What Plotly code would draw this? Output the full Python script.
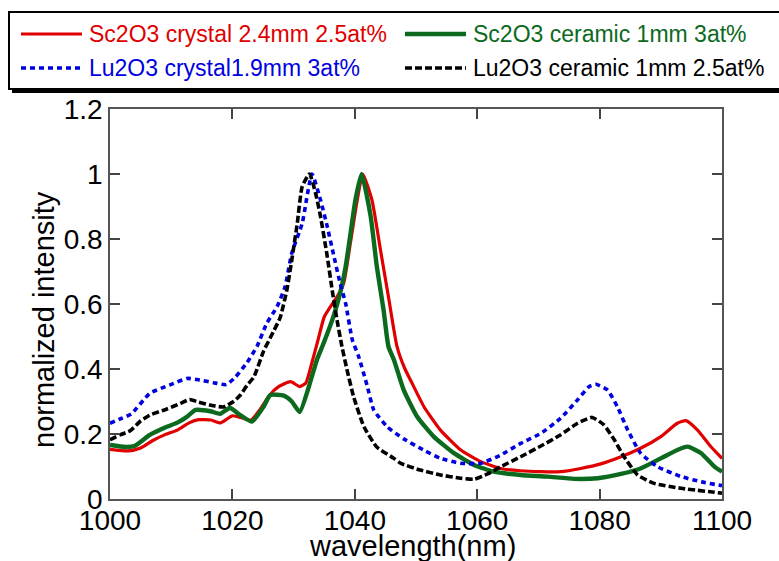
import plotly.graph_objects as go

# ---- spectra (wavelength in nm, normalized intensity) ----
sc_crystal_wl = [1000, 1003, 1005, 1007, 1009, 1011, 1013, 1014.5, 1016.5, 1018, 1020, 1021.5,
                 1023, 1024.5, 1026, 1027.5, 1029.5, 1031, 1032, 1033, 1034, 1035, 1036.3, 1037.2,
                 1038.2, 1039.3, 1040.4, 1041.3, 1042.8, 1044.2, 1045.5, 1046.9, 1048.2, 1049.1,
                 1051.3, 1054, 1057.3, 1060.6, 1063.8, 1067, 1070.4, 1073.6, 1076.9, 1080.2,
                 1083.5, 1086.7, 1090, 1092.7, 1094.1, 1096, 1098.2, 1100]
sc_crystal_int = [0.153, 0.148, 0.157, 0.180, 0.198, 0.212, 0.235, 0.244, 0.243, 0.234, 0.256, 0.250,
                  0.242, 0.275, 0.318, 0.345, 0.361, 0.346, 0.357, 0.420, 0.490, 0.560, 0.600, 0.625,
                  0.665, 0.790, 0.920, 1.000, 0.920, 0.766, 0.622, 0.469, 0.400, 0.366,
                  0.284, 0.212, 0.151, 0.115, 0.094, 0.087, 0.084, 0.084, 0.094, 0.108,
                  0.130, 0.156, 0.192, 0.233, 0.241, 0.212, 0.161, 0.125]

sc_ceramic_wl = [1000, 1002.5, 1004, 1006.5, 1009, 1011, 1012.5, 1014, 1016.4, 1018, 1019.6, 1021.3,
                 1023.2, 1025.1, 1026.2, 1028.4, 1029.7, 1031, 1032.5, 1033.8, 1034.9, 1036.5,
                 1037.6, 1038.5, 1039.3, 1040.1, 1041.1, 1042.6, 1043.6, 1044.7, 1045.5, 1046.4,
                 1048, 1050.2, 1052.9, 1056.2, 1059.5, 1062.7, 1067.1, 1071.5, 1075.8, 1079.7,
                 1083.5, 1086.7, 1090, 1092.7, 1094.4, 1096.6, 1098.8, 1100]
sc_ceramic_int = [0.166, 0.160, 0.163, 0.197, 0.220, 0.235, 0.252, 0.274, 0.270, 0.262, 0.280, 0.258,
                  0.238, 0.284, 0.320, 0.318, 0.300, 0.268, 0.346, 0.428, 0.479, 0.561,
                  0.633, 0.715, 0.817, 0.920, 1.000, 0.869, 0.715, 0.582, 0.469, 0.428,
                  0.335, 0.253, 0.192, 0.141, 0.105, 0.084, 0.074, 0.069, 0.062, 0.064,
                  0.077, 0.094, 0.125, 0.151, 0.161, 0.141, 0.099, 0.084]

lu_crystal_wl = [1000, 1001.5, 1003.5, 1006.5, 1009.8, 1012.6, 1014.7, 1016.9, 1019, 1020.5, 1022.4,
                 1024, 1025.6, 1027.3, 1028.6, 1029.7, 1031.4, 1033, 1034.4, 1035.5, 1036.6,
                 1037.6, 1038.5, 1039.6, 1040.6, 1042, 1043.1, 1045.3, 1048, 1051.3, 1054,
                 1057.3, 1060.6, 1063.8, 1067.1, 1070.4, 1073.6, 1076.4, 1078.3, 1079.4, 1081.3,
                 1082.9, 1084.6, 1086.7, 1089.5, 1093.3, 1096.6, 1100]
lu_crystal_int = [0.233, 0.245, 0.262, 0.325, 0.351, 0.371, 0.366, 0.358, 0.352, 0.375, 0.420,
                  0.469, 0.540, 0.592, 0.653, 0.756, 0.848, 1.000, 0.920, 0.838, 0.746,
                  0.664, 0.602, 0.489, 0.440, 0.350, 0.274, 0.222, 0.185, 0.150, 0.125,
                  0.110, 0.110, 0.135, 0.171, 0.202, 0.248, 0.305, 0.346, 0.353, 0.335,
                  0.284, 0.212, 0.141, 0.099, 0.069, 0.053, 0.041]

lu_ceramic_wl = [1000, 1001.6, 1003.3, 1005, 1006.5, 1009.3, 1011.5, 1013, 1014.5, 1016.4, 1018.5,
                 1020.2, 1021.3, 1022.4, 1023.5, 1025.1, 1026.7, 1027.8, 1028.9, 1029.7, 1030.6,
                 1031.4, 1032.6, 1033.6, 1034.4, 1035.5, 1036.3, 1037.1, 1037.9, 1038.7, 1039.8,
                 1041.5, 1043.6, 1046.4, 1047.5, 1050.7, 1054, 1057.3, 1059.5, 1061.7, 1063.8,
                 1067.1, 1070.4, 1073.6, 1076.4, 1078.8, 1080.7, 1082.4, 1084, 1086.2, 1088.9,
                 1093.3, 1100]
lu_ceramic_int = [0.182, 0.197, 0.210, 0.240, 0.258, 0.277, 0.294, 0.306, 0.298, 0.289, 0.283,
                  0.300, 0.320, 0.350, 0.375, 0.455, 0.515, 0.558, 0.643, 0.735, 0.848,
                  0.961, 1.000, 0.940, 0.869, 0.746, 0.643, 0.550, 0.469, 0.400, 0.315,
                  0.222, 0.160, 0.125, 0.110, 0.089, 0.074, 0.064, 0.061, 0.077, 0.099,
                  0.130, 0.163, 0.197, 0.233, 0.251, 0.228, 0.182, 0.130, 0.074, 0.048,
                  0.033, 0.018]

series_names = ["Sc2O3 crystal 2.4mm 2.5at%", "Sc2O3 ceramic 1mm 3at%",
                "Lu2O3 crystal1.9mm 3at%", "Lu2O3 ceramic 1mm 2.5at%"]
x_ticks = [1000, 1020, 1040, 1060, 1080, 1100]
y_ticks = [0, 0.2, 0.4, 0.6, 0.8, 1, 1.2]

FONT = "Liberation Sans, Arial, sans-serif"
W, H = 779, 561
ML, MR, MT, MB = 110, 57, 109, 62

styles = [
    dict(color="#e00000", width=3.2, dash="solid"),
    dict(color="#0b6a1d", width=4.4, dash="solid"),
    dict(color="#0000e0", width=3.6, dash="5px,4px"),
    dict(color="#000000", width=3.6, dash="7px,3px"),
]
data = [(sc_crystal_wl, sc_crystal_int), (sc_ceramic_wl, sc_ceramic_int),
        (lu_crystal_wl, lu_crystal_int), (lu_ceramic_wl, lu_ceramic_int)]

fig = go.Figure()
for (wl, inten), name, st in zip(data, series_names, styles):
    fig.add_trace(go.Scatter(x=wl, y=inten, mode="lines", name=name,
                             line=dict(color=st["color"], width=st["width"], dash=st["dash"],
                                       shape="spline", smoothing=0.5),
                             showlegend=False))

pw, ph = W - ML - MR, H - MT - MB


def px(x):
    return (x - ML) / pw


def py(y):
    return (H - MB - y) / ph


shapes = [
    # legend frame with drop shadow
    dict(type="rect", xref="paper", yref="paper", x0=px(12), x1=px(820), y0=py(15), y1=py(93),
         fillcolor="black", line=dict(width=0), layer="above"),
    dict(type="rect", xref="paper", yref="paper", x0=px(9), x1=px(815), y0=py(12), y1=py(89),
         fillcolor="white", line=dict(color="black", width=2), layer="above"),
]
annotations = []
legend_slots = [(21, 34), (405, 34), (21, 68), (405, 68)]
for (lx, ly), name, st in zip(legend_slots, series_names, styles):
    shapes.append(dict(type="line", xref="paper", yref="paper", x0=px(lx), x1=px(lx + 61),
                       y0=py(ly), y1=py(ly), layer="above",
                       line=dict(color=st["color"], width=st["width"], dash=st["dash"])))
    annotations.append(dict(x=px(lx + 66), y=py(ly), xref="paper", yref="paper", text=name,
                            showarrow=False, xanchor="left", yanchor="middle",
                            font=dict(family=FONT, size=23, color=st["color"])))

annotations.append(dict(x=px(44), y=py(320), xref="paper", yref="paper", text="normalized intensity",
                        textangle=-90, showarrow=False, xanchor="center", yanchor="middle",
                        font=dict(family=FONT, size=29, color="black")))
annotations.append(dict(x=px(412), y=py(546), xref="paper", yref="paper", text="wavelength(nm)",
                        showarrow=False, xanchor="center", yanchor="middle",
                        font=dict(family=FONT, size=29, color="black")))

axis_common = dict(showgrid=False, zeroline=False, showline=True, linecolor="#555555", linewidth=1.5,
                   mirror="ticks", ticks="inside", ticklen=10, tickwidth=1.5, tickcolor="#444444",
                   tickfont=dict(family=FONT, size=28, color="black"))

fig.update_layout(
    width=W, height=H, margin=dict(l=ML, r=MR, t=MT, b=MB),
    paper_bgcolor="white", plot_bgcolor="white",
    xaxis=dict(range=[1000, 1100], tickvals=x_ticks, ticklabelstandoff=-4, **axis_common),
    yaxis=dict(range=[0, 1.2], tickvals=y_ticks, **axis_common),
    shapes=shapes, annotations=annotations, showlegend=False,
)

fig.write_html("out.html")
